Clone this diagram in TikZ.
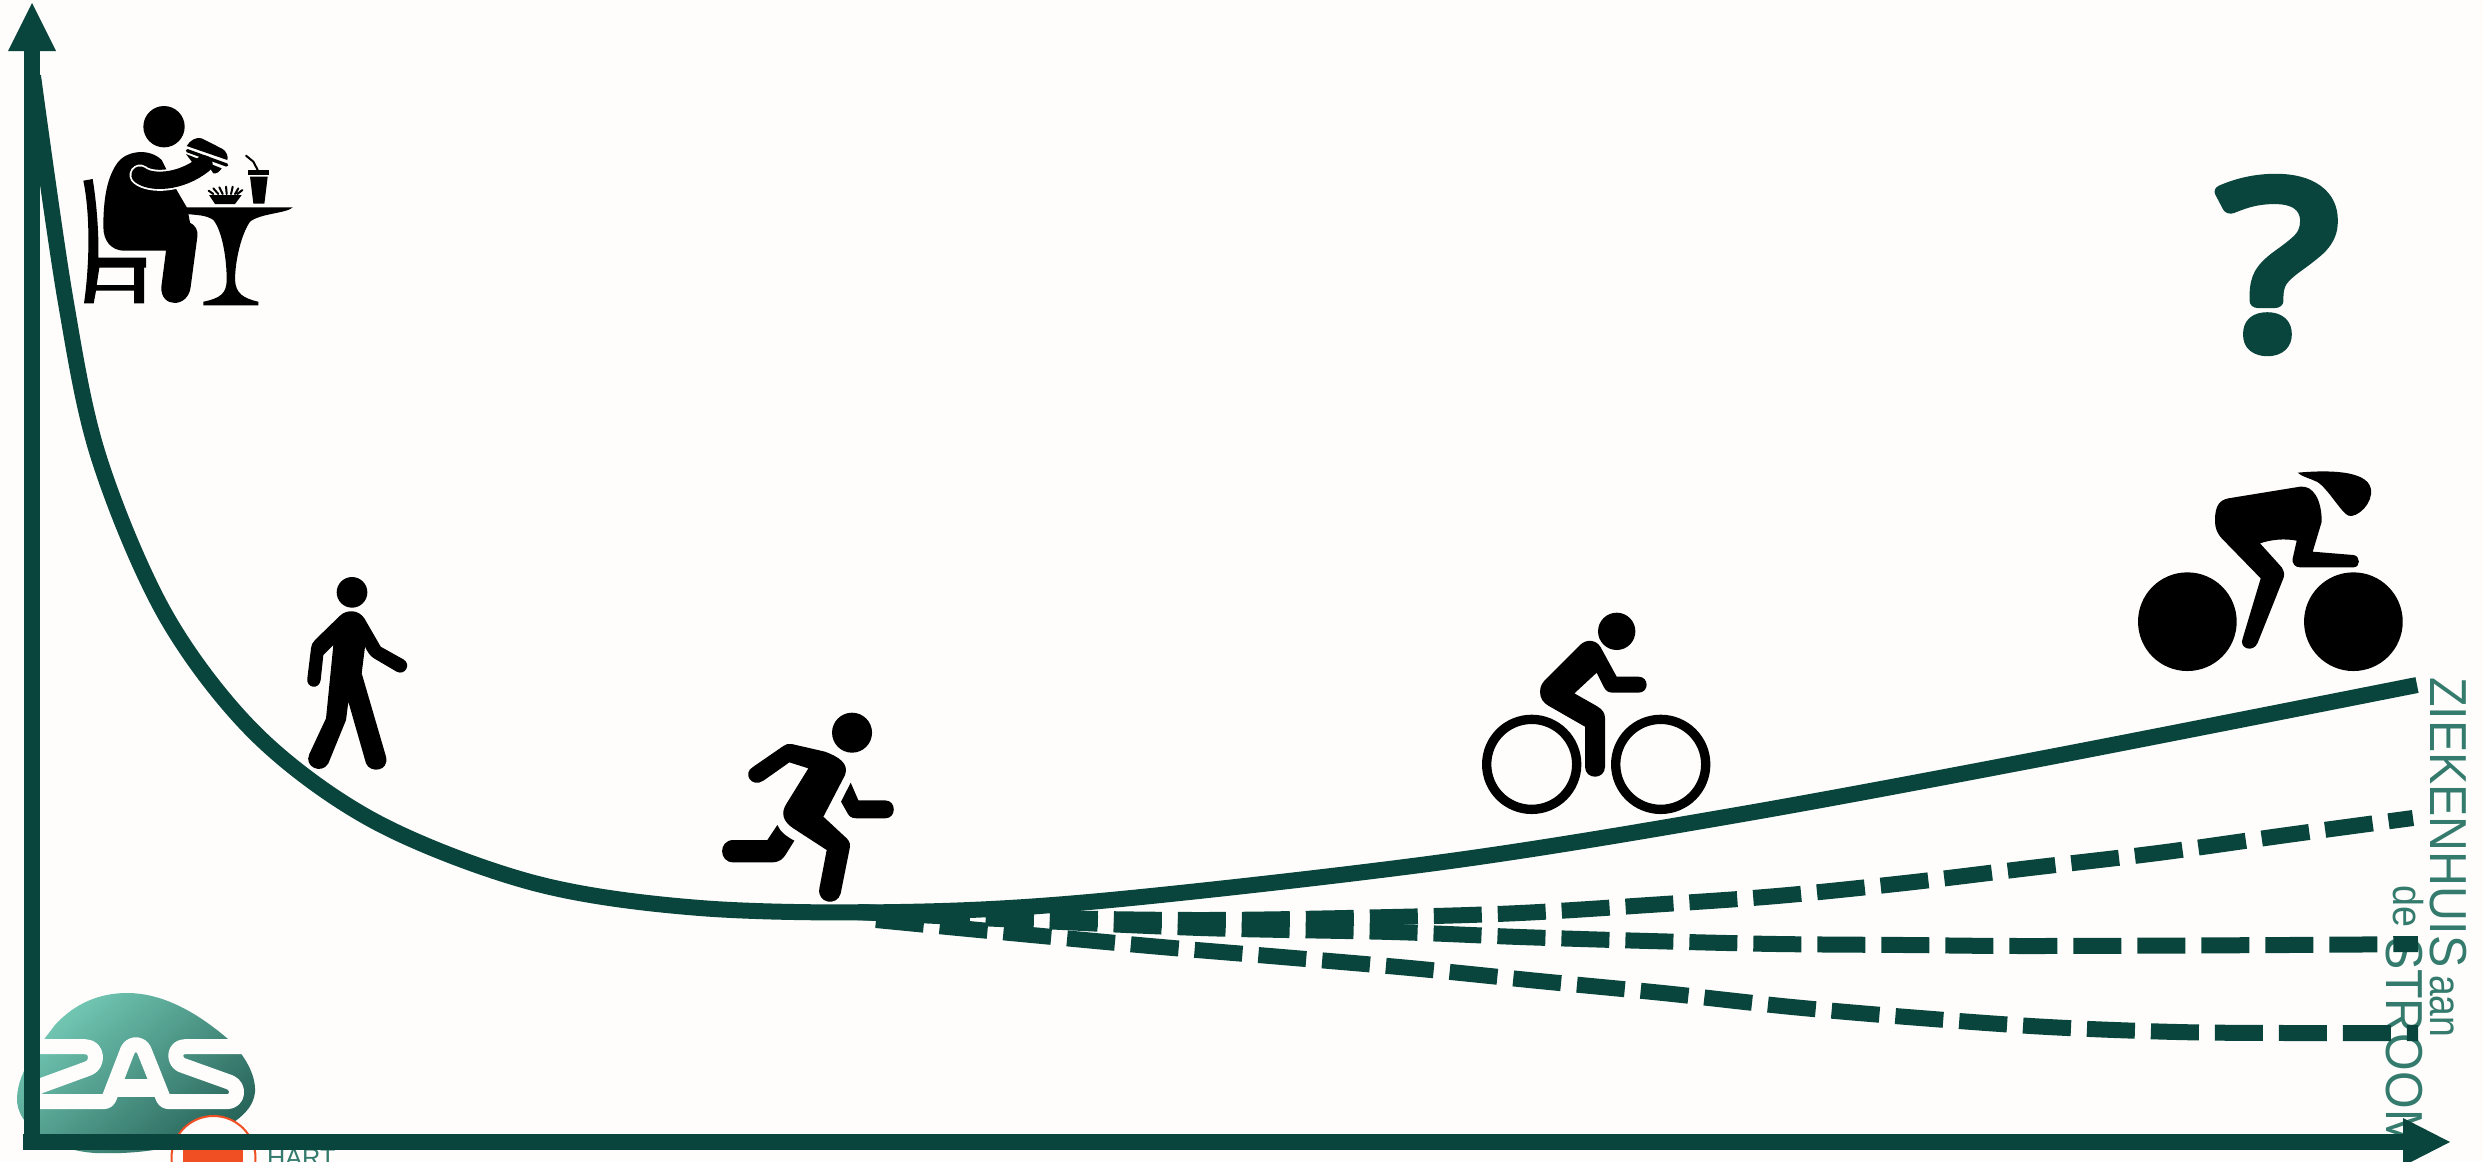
\documentclass[tikz,border=0pt]{standalone}
\usepackage{fontspec}
\setmainfont{Liberation Sans}
\newfontfamily\qfont[FakeBold=6]{Open Sans}
\definecolor{zgreen}{HTML}{0A453D}
\definecolor{ztext}{HTML}{347B6D}
\definecolor{zbg}{HTML}{FEFDFB}
\definecolor{zred}{HTML}{F04E23}
\definecolor{zlight}{HTML}{74CAB6}
\definecolor{zdark}{HTML}{28655A}
\tikzset{
  pxgrid/.style={x=0.1cm,y=-0.1cm},
  zoomgrid/.style={x=0.033333cm,y=-0.033333cm},
  axisline/.style={draw=zgreen,line width=1.6cm},
  axishead/.style={fill=zgreen},
  maincurve/.style={draw=zgreen,line width=1.6cm},
  scenario/.style={draw=zgreen,line width=1.6cm,dash pattern=on 4.8cm off 1.6cm},
  limb/.style={draw=black,line width=#1*0.033333cm,line cap=round,line join=round},
  ink/.style={fill=black},
  sidetext/.style={text=ztext,rotate=-90,anchor=base west,inner sep=0pt,font=\fontsize{148}{148}\selectfont},
  smalltext/.style={text=ztext,anchor=base west,inner sep=0pt,font=\fontsize{72}{72}\selectfont},
  logostroke/.style={draw=zbg,line width=1.5cm,line cap=round,line join=round}
}
\begin{document}
\begin{tikzpicture}[pxgrid]
\clip (0,0) rectangle (2483,1161);
\fill[zbg] (0,0) rectangle (2483,1161);

% logo blob
\path[top color=zlight,bottom color=zdark,shading angle=40]
  (127,993) .. controls (165,993) and (200,1015) .. (228,1039)
  .. controls (245,1055) and (256,1075) .. (255,1092)
  .. controls (253,1115) and (225,1130) .. (195,1140)
  .. controls (160,1152) and (125,1154) .. (95,1153)
  .. controls (50,1150) and (16,1125) .. (17,1098)
  .. controls (18,1070) and (40,1045) .. (55,1025)
  .. controls (75,1003) and (100,993) .. (127,993) -- cycle;
% logo letters
\begin{scope}[shift={(0,950)},zoomgrid]
\draw[logostroke]
 (100,290) -- (255,290) .. controls (295,290) and (295,345) .. (265,355)
 -- (120,408) .. controls (95,418) and (90,455) .. (125,455)
 -- (310,455) .. controls (325,455) and (327,445) .. (332,432)
 -- (383,300) .. controls (395,278) and (420,278) .. (432,300)
 -- (487,438) .. controls (492,450) and (495,455) .. (510,455)
 -- (680,455) .. controls (715,455) and (720,410) .. (690,397)
 -- (545,345) .. controls (520,335) and (520,290) .. (555,290) -- (740,290);
\fill[zbg] (345,386) rectangle (470,440);
\end{scope}

% red emblem
\fill[zbg,draw=zred,line width=0.2cm] (213.5,1158) circle (42);
\fill[zred] (199,1150) circle (16) (227,1150) circle (16);
\fill[zred] (183,1152) -- (243,1152) -- (243,1165) -- (183,1165) -- cycle;
\node[smalltext] (hart) at (267,1166) {HART};

% side text
\node[sidetext] (zkh) at (2430,677) {\scalebox{0.93}[1]{ZIEKENHUIS}};
\node[sidetext,font=\fontsize{125}{125}\selectfont] (aan) at (2430,975) {\scalebox{0.85}[1]{aan}};
\node[sidetext,font=\fontsize{119}{119}\selectfont] (de) at (2393,885) {\scalebox{0.9}[1]{de}};
\node[sidetext] (str) at (2386,937) {\scalebox{0.93}[1]{STROOM}};

% curves
\draw[scenario] plot[smooth,tension=0.55] coordinates {(858,912) (1000,917) (1201,920) (1392,917) (1520,913) (1649,905) (1777,896) (1905,883) (2030,868) (2158,853) (2287,835) (2413,818)};
\draw[scenario] plot[smooth,tension=0.55] coordinates {(858,912) (1000,919) (1201,928) (1392,932) (1520,937) (1649,941) (1777,944) (1905,945) (2030,946) (2287,945) (2418,944)};
\draw[scenario] plot[smooth,tension=0.55] coordinates {(876,920) (1000,932) (1150,946) (1282,957) (1410,968) (1539,981) (1663,993) (1792,1007) (1920,1018) (2048,1027) (2177,1032) (2287,1033) (2418,1033)};
\draw[maincurve] plot[smooth,tension=0.55] coordinates {(33,76) (65.5,300) (99,458) (166,616) (257,735) (376,822) (534,883) (700,908) (900,912) (1100,901) (1443,862) (1737,815) (2050,757) (2417,685)};

% axes
\coordinate (origin) at (32,1142);
\coordinate (ytop) at (32,50);
\coordinate (xend) at (2404,1142);
\draw[axisline] (32,1150) -- (ytop);
\draw[axisline] (23,1142) -- (xend);
\fill[axishead] (32,3) -- (56,51) -- (8,51) -- cycle;
\fill[axishead] (2450,1142) -- (2403,1118) -- (2403,1166) -- cycle;

% question mark
\node[text=zgreen,inner sep=0pt,font=\qfont\fontsize{650}{650}\selectfont] (q) at (2278,265) {\special{pdf:code 1 J 1 j}\scalebox{1.2}[1]{?}};

% diner
\begin{scope}[shift={(0,0)},zoomgrid]
\fill[ink] (492,380) circle (62);
\fill[ink] (310,680) .. controls (310,600) and (320,530) .. (355,485)
  .. controls (385,450) and (450,445) .. (485,480) -- (530,570) -- (562,625) -- (570,668)
  .. controls (585,675) and (595,690) .. (592,710) -- (572,860)
  .. controls (565,925) and (480,925) .. (484,860) -- (498,752) -- (370,752)
  .. controls (335,750) and (310,725) .. (310,680) -- cycle;
\draw[draw=zbg,line width=2.1cm,line cap=round] (420,525) .. controls (450,550) and (540,550) .. (612,492);
\draw[limb=52] (420,525) .. controls (450,550) and (540,550) .. (612,492);
\fill[ink] (560,438) .. controls (570,420) and (590,410) .. (605,415) -- (668,447) .. controls (680,455) and (685,470) .. (682,480) -- cycle;
\draw[limb=10] (562,452) -- (680,495);
\fill[ink] (558,462) -- (575,485) -- (620,490) -- (640,520) .. controls (650,522) and (658,515) .. (665,505) -- cycle;
\draw[limb=6] (738,467) -- (760,485) -- (773,510);
\fill[ink] (743,510) -- (808,510) -- (808,526) -- (743,526) -- cycle;
\fill[ink] (750,530) -- (803,530) -- (793,611) -- (760,611) -- cycle;
\fill[ink] (627,585) -- (725,585) -- (705,612) -- (645,612) -- cycle;
\draw[limb=6] (640,582) -- (626,572) (655,582) -- (640,565) (668,582) -- (658,562) (680,582) -- (678,560) (693,582) -- (698,560) (705,582) -- (715,565) (712,582) -- (727,570);
\fill[ink] (560,622) -- (878,622) .. controls (860,640) and (780,640) .. (750,665)
  .. controls (725,700) and (705,780) .. (705,840) .. controls (707,880) and (730,895) .. (775,905) -- (775,916) -- (610,916) -- (610,905)
  .. controls (660,895) and (680,880) .. (680,840) .. controls (680,770) and (665,690) .. (640,660)
  .. controls (620,645) and (590,645) .. (560,642) -- cycle;
\fill[ink,even odd rule] (250,542) -- (278,537) .. controls (290,610) and (297,700) .. (295,773) -- (438,773) -- (438,803) -- (432,803) -- (432,910) -- (402,910) -- (402,872) -- (288,872) -- (281,910) -- (252,910) .. controls (268,800) and (272,650) .. (250,542) -- cycle
  (298,803) -- (402,803) -- (402,855) -- (290,855) -- cycle;
\end{scope}

% walker
\begin{scope}[shift={(230,550)},zoomgrid]
\fill[ink] (366,127) circle (46);
\fill[ink] (330,197) .. controls (350,178) and (385,178) .. (403,205) -- (452,290) -- (520,328)
  .. controls (545,342) and (525,378) .. (500,365) -- (432,325) .. controls (420,318) and (412,305) .. (405,290)
  -- (395,370) -- (468,620) .. controls (478,665) and (420,670) .. (408,640) -- (355,455) -- (348,510)
  -- (295,640) .. controls (275,675) and (220,650) .. (238,612) -- (288,505) -- (310,285) -- (280,315)
  -- (272,390) .. controls (268,420) and (228,415) .. (232,385) -- (243,295) .. controls (243,285) and (248,278) .. (255,270) -- cycle;
\end{scope}

% runner
\begin{scope}[shift={(600,690)},zoomgrid]
\fill[ink] (756,128) circle (60);
\fill[ink] (460,230) -- (550,168) .. controls (558,162) and (565,160) .. (575,162) -- (675,185) .. controls (715,200) and (748,220) .. (735,255)
  -- (670,380) -- (740,445) .. controls (750,455) and (752,465) .. (748,480) -- (722,610)
  .. controls (712,650) and (650,640) .. (658,595) -- (680,480) -- (580,415) .. controls (550,395) and (540,370) .. (560,340)
  -- (625,235) -- (568,217) -- (490,272) .. controls (455,295) and (425,250) .. (460,230) -- cycle;
\fill[ink] (532,405) -- (502,450) -- (400,450) .. controls (355,450) and (355,517) .. (400,517) -- (515,517) .. controls (540,517) and (550,505) .. (558,492) -- (583,452) .. controls (560,440) and (540,425) .. (532,405) -- cycle;
\fill[ink] (752,278) -- (775,331) -- (855,331) .. controls (890,331) and (890,385) .. (855,385) -- (770,385) .. controls (750,385) and (745,375) .. (740,365) -- (723,335) -- cycle;
\end{scope}

% cyclist
\begin{scope}[shift={(1450,590)},zoomgrid]
\fill[ink] (500,124) circle (56);
\draw[limb=28] (245,523) circle (135);
\draw[limb=28] (632,523) circle (135);
\fill[ink] (270,305) .. controls (270,285) and (280,275) .. (290,265) -- (390,165) .. controls (410,145) and (440,150) .. (452,172) -- (500,260) -- (565,260) .. controls (598,260) and (598,308) .. (565,308) -- (490,308) .. controls (475,308) and (468,303) .. (462,292) -- (440,248) -- (373,310) -- (440,348) .. controls (458,358) and (465,370) .. (465,385) -- (465,530) .. controls (465,570) and (405,570) .. (405,530) -- (405,410) -- (295,347) .. controls (280,338) and (270,325) .. (270,305) -- cycle;
\end{scope}

% racer
\begin{scope}[shift={(2100,450)},zoomgrid]
\fill[ink] (262,515) circle (148);
\fill[ink] (760,515) circle (148);
\fill[ink] (593,68) .. controls (680,60) and (800,60) .. (812,115) .. controls (822,160) and (770,205) .. (745,197) .. controls (725,190) and (680,110) .. (650,95) .. controls (630,85) and (605,80) .. (593,68) -- cycle;
\fill[ink] (345,210) .. controls (345,165) and (360,150) .. (385,145) -- (600,110) .. controls (640,105) and (665,150) .. (665,215) -- (638,305) -- (760,315) .. controls (782,318) and (782,352) .. (760,352) -- (600,352) .. controls (585,352) and (575,340) .. (578,325) -- (590,272) .. controls (555,265) and (515,268) .. (480,280) -- (545,352) .. controls (553,365) and (555,375) .. (548,390) -- (473,578) .. controls (460,610) and (415,595) .. (428,565) -- (482,385) -- (370,270) .. controls (350,250) and (345,235) .. (345,210) -- cycle;
\end{scope}
\end{tikzpicture}
\end{document}
